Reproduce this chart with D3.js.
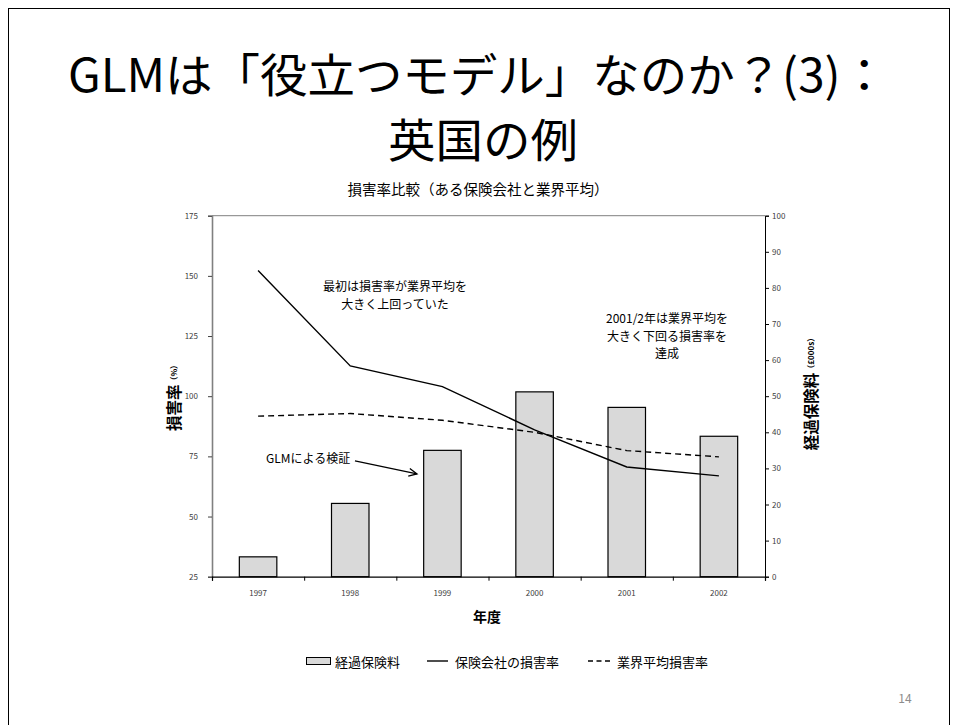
<!DOCTYPE html>
<html><head><meta charset="utf-8">
<script src="https://cdn.jsdelivr.net/npm/d3@7"></script>
<style>
html,body{margin:0;padding:0;background:#fff;}
svg{display:block;}
text{font-family:"Noto Sans CJK JP","Noto Sans",sans-serif;}
</style></head>
<body>
<svg id="c" width="958" height="725"></svg>
<script>
// ---- data ----
const years = ["1997","1998","1999","2000","2001","2002"];
const premium = [5.5, 20.3, 35.0, 51.2, 46.9, 38.9];          // 経過保険料 (£000s), right axis
const companyLR = [152.2, 112.6, 104.0, 86.0, 70.6, 66.9];     // 保険会社の損害率 (%)
const industryLR = [91.7, 92.8, 90.0, 85.0, 77.4, 74.8];       // 業界平均損害率 (%)
const leftTicks = [25, 50, 75, 100, 125, 150, 175];
const rightTicks = [0, 10, 20, 30, 40, 50, 60, 70, 80, 90, 100];
const titleLines = ["GLMは「役立つモデル」なのか？(3)：", "英国の例"];
const chartTitle = "損害率比較（ある保険会社と業界平均）";
const legendLabels = ["経過保険料", "保険会社の損害率", "業界平均損害率"];
const notes = [
  {lines:["最初は損害率が業界平均を","大きく上回っていた"], x:1.985, y:145.8, anchor:"middle"},
  {lines:["2001/2年は業界平均を","大きく下回る損害率を","達成"], x:4.937, y:132.6, anchor:"middle"},
  {lines:["GLMによる検証"], x:0.586, y:74.4, anchor:"start"}
];
const arrow = {x1:1.551, y1:73.1, x2:2.224, y2:67.7};

// ---- layout ----
const svg = d3.select("#c");
const L = 212, R = 765, T = 215.7, B = 576.7;

// slide frame
svg.append("rect").attr("x",8.5).attr("y",8.5).attr("width",941).attr("height",740)
  .attr("fill","none").attr("stroke","#000").attr("stroke-width",1);

// slide title
svg.append("text").attr("x",478).attr("y",72).attr("text-anchor","middle")
  .attr("dominant-baseline","central").attr("font-size",46)
  .attr("textLength",820).attr("lengthAdjust","spacingAndGlyphs")
  .text(titleLines[0]);
svg.append("text").attr("x",483).attr("y",137).attr("text-anchor","middle")
  .attr("dominant-baseline","central").attr("font-size",46)
  .attr("textLength",190).attr("lengthAdjust","spacingAndGlyphs")
  .text(titleLines[1]);

// chart title
svg.append("text").attr("x",478).attr("y",188).attr("text-anchor","middle")
  .attr("dominant-baseline","central").attr("font-size",14.5).attr("fill","#000")
  .text(chartTitle);

// scales
const x = d3.scaleBand().domain(years).range([L,R]).paddingInner(0).paddingOuter(0);
const xi = d3.scaleLinear().domain([0,years.length]).range([L,R]);
const yL = d3.scaleLinear().domain([25,175]).range([B,T]);
const yR = d3.scaleLinear().domain([0,100]).range([B,T]);

// top border
svg.append("line").attr("x1",L).attr("x2",R).attr("y1",T).attr("y2",T)
  .attr("stroke","#808080").attr("stroke-width",1);

// bars
const bw = 37.5;
svg.append("g").selectAll("rect").data(years).join("rect")
  .attr("x",d=>x(d)+x.bandwidth()/2-bw/2)
  .attr("width",bw)
  .attr("y",(d,i)=>yR(premium[i]))
  .attr("height",(d,i)=>B-yR(premium[i]))
  .attr("fill","#d9d9d9").attr("stroke","#000").attr("stroke-width",1.2);

// lines
const lineGen = d3.line().x((d,i)=>x(years[i])+x.bandwidth()/2).y(d=>yL(d));
svg.append("path").datum(industryLR).attr("d",lineGen)
  .attr("fill","none").attr("stroke","#000").attr("stroke-width",1.4)
  .attr("stroke-dasharray","6,4");
svg.append("path").datum(companyLR).attr("d",lineGen)
  .attr("fill","none").attr("stroke","#000").attr("stroke-width",1.4);

// left axis
const gl = svg.append("g").attr("transform",`translate(${L},0)`)
  .call(d3.axisLeft(yL).tickValues(leftTicks).tickSize(4).tickPadding(10).tickFormat(d3.format("d")));
gl.select(".domain").attr("stroke","#808080").attr("stroke-width",1.6);
gl.selectAll(".tick line").attr("stroke","#404040");
gl.selectAll(".tick text").attr("font-size",8).attr("fill","#404040")
  .attr("font-family","'Liberation Sans','Noto Sans',sans-serif");

// right axis
const gr = svg.append("g").attr("transform",`translate(${R},0)`)
  .call(d3.axisRight(yR).tickValues(rightTicks).tickSize(4).tickPadding(3).tickFormat(d3.format("d")));
gr.select(".domain").attr("stroke","#000").attr("stroke-width",1);
gr.selectAll(".tick text").attr("font-size",8).attr("fill","#404040")
  .attr("font-family","'Liberation Sans','Noto Sans',sans-serif");

// bottom axis: ticks at category boundaries, labels at centres
const gb = svg.append("g").attr("transform",`translate(0,${B})`);
gb.call(d3.axisBottom(xi).tickValues(d3.range(0,years.length+1)).tickSize(4).tickFormat(""));
gb.select(".domain").attr("stroke","#000").attr("stroke-width",1.2);
gb.selectAll("text.yl").data(years).join("text").attr("class","yl")
  .attr("x",d=>x(d)+x.bandwidth()/2).attr("y",16).attr("text-anchor","middle")
  .attr("dominant-baseline","central").attr("font-size",8).attr("fill","#404040")
  .attr("font-family","'Liberation Sans','Noto Sans',sans-serif")
  .text(d=>d);

// axis titles
svg.append("text").attr("x",487).attr("y",616).attr("text-anchor","middle")
  .attr("dominant-baseline","central").attr("font-size",14).attr("font-weight","bold").text("年度");

const lt = svg.append("text").attr("transform","translate(173,396) rotate(-90)")
  .attr("text-anchor","middle").attr("dominant-baseline","central");
lt.append("tspan").attr("font-size",15.5).attr("font-weight","bold").text("損害率");
lt.append("tspan").attr("font-size",8).attr("font-weight","bold").text("（%）");

const rt = svg.append("text").attr("transform","translate(810,392) rotate(-90)")
  .attr("text-anchor","middle").attr("dominant-baseline","central");
rt.append("tspan").attr("font-size",15.5).attr("font-weight","bold").text("経過保険料");
rt.append("tspan").attr("font-size",8).attr("font-weight","bold").text("（£000s）");

// annotations: one text element per line, spaced so the line boxes do not collide
const lineGap = 17.6;
notes.forEach(n=>{
  n.lines.forEach((s,i)=>{
    svg.append("text").attr("x",xi(n.x)).attr("y",yL(n.y)+i*lineGap)
      .attr("text-anchor",n.anchor).attr("font-size",12).attr("dominant-baseline","central")
      .text(s);
  });
});
const ax1 = xi(arrow.x1), ay1 = yL(arrow.y1), ax2 = xi(arrow.x2), ay2 = yL(arrow.y2);
svg.append("line").attr("x1",ax1).attr("y1",ay1).attr("x2",ax2).attr("y2",ay2)
  .attr("stroke","#000").attr("stroke-width",1.3);
const ang = Math.atan2(ay2-ay1, ax2-ax1), hl = 9, ha = 0.45;
svg.append("path")
  .attr("d",`M${ax2-hl*Math.cos(ang-ha)},${ay2-hl*Math.sin(ang-ha)}L${ax2},${ay2}L${ax2-hl*Math.cos(ang+ha)},${ay2-hl*Math.sin(ang+ha)}`)
  .attr("fill","none").attr("stroke","#000").attr("stroke-width",1.3);

// legend
const lg = svg.append("g").attr("transform","translate(0,661)");
lg.append("rect").attr("x",306.5).attr("y",-3.5).attr("width",24).attr("height",7)
  .attr("fill","#d9d9d9").attr("stroke","#000").attr("stroke-width",1);
lg.append("text").attr("x",335).attr("y",0).attr("dominant-baseline","central")
  .attr("font-size",13).text(legendLabels[0]);
lg.append("line").attr("x1",427).attr("x2",448).attr("y1",0).attr("y2",0)
  .attr("stroke","#000").attr("stroke-width",1.4);
lg.append("text").attr("x",455).attr("y",0).attr("dominant-baseline","central")
  .attr("font-size",13).text(legendLabels[1]);
lg.append("line").attr("x1",588).attr("x2",610).attr("y1",0).attr("y2",0)
  .attr("stroke","#000").attr("stroke-width",1.4).attr("stroke-dasharray","5,3.5");
lg.append("text").attr("x",617).attr("y",0).attr("dominant-baseline","central")
  .attr("font-size",13).text(legendLabels[2]);

// page number
svg.append("text").attr("x",905).attr("y",697).attr("text-anchor","middle")
  .attr("dominant-baseline","central").attr("font-size",12).attr("fill","#8c8c8c")
  .attr("font-family","'Liberation Sans','Noto Sans',sans-serif").text("14");
</script>
</body></html>
